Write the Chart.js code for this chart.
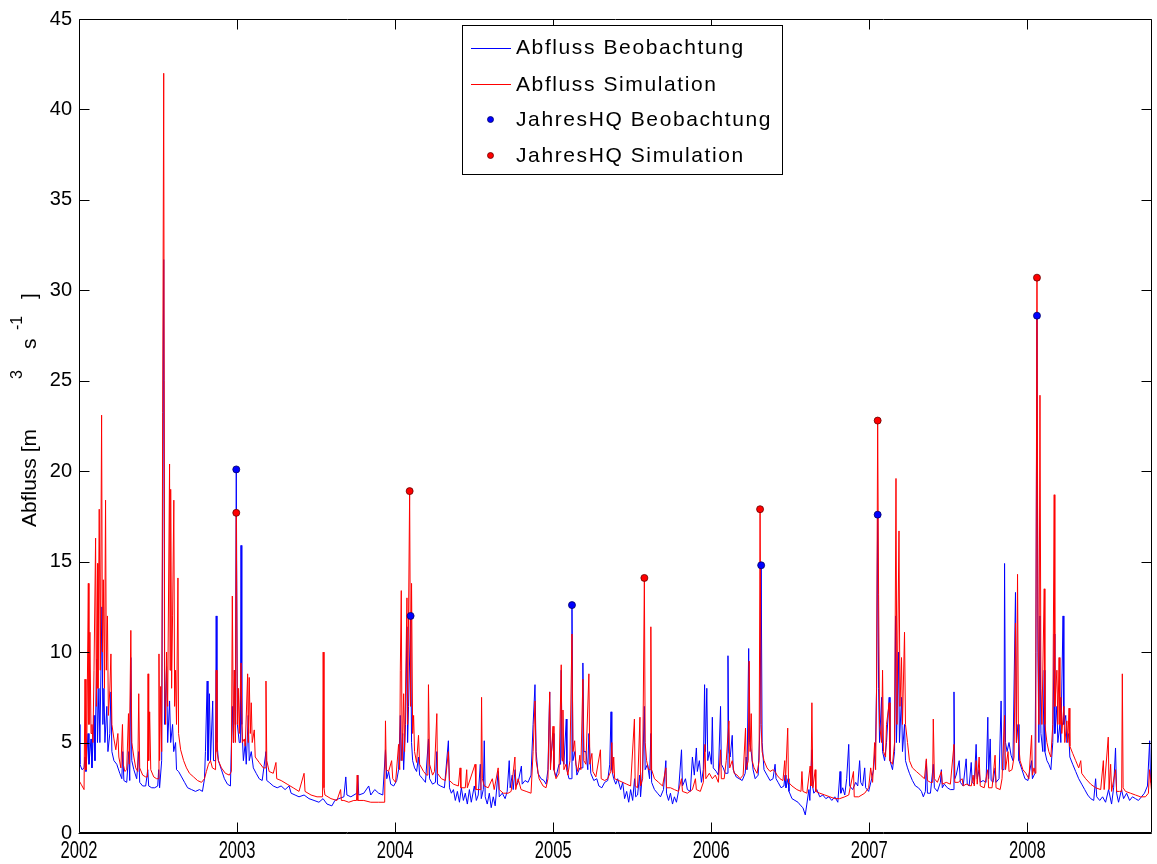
<!DOCTYPE html>
<html>
<head>
<meta charset="utf-8">
<script src="https://cdn.jsdelivr.net/npm/chart.js@4.4.1/dist/chart.umd.min.js"></script>
<style>
  html, body { margin: 0; padding: 0; background: #fff; }
</style>
</head>
<body>
<canvas id="abfluss-chart" width="1157" height="864"></canvas>
<script>
const START_YEAR = 2002;
const yearTicks = [2002, 2003, 2004, 2005, 2006, 2007, 2008];
const flowTicks = [0, 5, 10, 15, 20, 25, 30, 35, 40, 45];

// [years since 1 Jan 2002, discharge m3/s]
const obsFlow = [
  [0.000,6.0],[0.006,3.8],[0.019,3.5],[0.032,3.6],[0.038,4.2],[0.044,3.4],[0.057,5.5],[0.063,3.8],[0.076,5.2],[0.082,3.6],
  [0.095,6.5],[0.101,4],[0.112,9.6],[0.117,5],[0.126,8],[0.132,5],[0.145,12.5],[0.151,6],[0.158,8],[0.164,5],
  [0.176,7],[0.183,4.5],[0.195,5.5],[0.202,7.8],[0.208,4.5],[0.221,4.0],[0.239,3.8],[0.258,3.3],[0.271,3.0],[0.277,4.5],
  [0.284,2.9],[0.302,2.8],[0.315,4.5],[0.321,2.9],[0.328,9.7],[0.334,4],[0.347,3.5],[0.365,3.0],[0.378,4.5],[0.384,2.8],
  [0.403,2.6],[0.422,2.6],[0.435,3.5],[0.441,2.6],[0.460,2.5],[0.479,2.5],[0.498,2.6],[0.504,3.5],[0.510,2.5],[0.523,4],
  [0.536,31.7],[0.542,6],[0.554,9.2],[0.561,5],[0.573,7.3],[0.580,5],[0.592,6],[0.599,4.5],[0.611,5.0],[0.617,3.5],
  [0.630,3.4],[0.649,3.1],[0.668,2.8],[0.687,2.5],[0.712,2.4],[0.737,2.3],[0.762,2.4],[0.781,2.3],[0.794,3.0],[0.800,4.5],
  [0.811,8.4],[0.816,4],[0.825,7.7],[0.832,4],[0.846,7.3],[0.851,4],[0.864,4],[0.868,12.0],[0.873,5],[0.882,4.0],[0.901,3.5],
  [0.920,3.0],[0.939,2.7],[0.958,2.6],[0.970,7],[0.977,5],[0.983,9],[0.989,6],[0.995,20.1],[1.002,6],[1.014,5],
  [1.021,5],[1.025,15.9],[1.030,6],[1.040,4.0],[1.052,5],[1.058,3.8],[1.071,6.5],[1.077,4],[1.090,4.5],[1.103,3.6],[1.121,3.3],
  [1.140,3.0],[1.159,2.9],[1.183,4.5],[1.188,2.9],[1.203,2.8],[1.229,2.6],[1.254,2.5],[1.279,2.6],[1.304,2.4],[1.329,2.6],
  [1.342,2.2],[1.367,2.1],[1.392,2.0],[1.424,2.1],[1.455,1.9],[1.487,1.8],[1.518,1.7],[1.544,1.9],[1.569,1.6],[1.600,1.5],
  [1.619,1.8],[1.644,1.9],[1.676,2.0],[1.688,3.1],[1.695,2.1],[1.720,2.0],[1.758,2.2],[1.764,3.2],[1.770,2.1],[1.802,2.2],
  [1.833,2.6],[1.846,2.1],[1.871,2.4],[1.896,2.2],[1.922,2.1],[1.939,4.6],[1.947,3.0],[1.959,3.4],[1.972,2.7],[1.991,2.6],
  [2.010,2.9],[2.022,3.5],[2.033,6.5],[2.038,4],[2.048,5.5],[2.054,3.5],[2.066,6],[2.075,11.4],[2.079,5],[2.085,7],
  [2.098,12.0],[2.104,5],[2.111,4.0],[2.123,3.6],[2.136,3.4],[2.148,4.2],[2.155,3.2],[2.174,3.0],[2.192,2.8],[2.211,5.2],
  [2.218,3],[2.237,2.7],[2.255,2.8],[2.264,4.5],[2.268,2.7],[2.287,2.6],[2.312,2.5],[2.337,5.1],[2.344,2.5],[2.356,2.2],
  [2.369,2.4],[2.381,1.8],[2.394,2.3],[2.407,1.7],[2.419,2.5],[2.432,1.8],[2.444,2.2],[2.457,1.6],[2.470,2.4],[2.482,1.7],
  [2.501,2.6],[2.514,1.8],[2.526,2.1],[2.539,3.8],[2.545,1.9],[2.558,2.4],[2.564,5.1],[2.570,2.0],[2.583,1.6],[2.596,2.2],
  [2.608,1.4],[2.621,2.0],[2.633,1.5],[2.652,3.4],[2.659,2.0],[2.678,2.2],[2.696,1.9],[2.709,2.3],[2.722,4.0],[2.728,2.5],
  [2.741,3.2],[2.747,2.4],[2.759,3.5],[2.766,2.6],[2.778,2.8],[2.799,3.7],[2.804,2.7],[2.822,2.9],[2.841,2.8],[2.860,3.2],
  [2.873,6],[2.885,8.2],[2.892,4.5],[2.904,3.3],[2.923,3.0],[2.942,2.9],[2.955,2.7],[2.967,3.5],[2.978,7.8],[2.983,3.8],
  [2.999,5.5],[3.005,3.5],[3.018,3.1],[3.037,3.8],[3.047,3.8],[3.051,9.0],[3.056,4.2],[3.068,3.8],[3.083,6.3],[3.087,3.5],[3.100,3.0],
  [3.115,3.0],[3.119,12.6],[3.125,4],[3.137,4.5],[3.150,3.2],[3.169,3.6],[3.184,3.6],[3.188,9.4],[3.194,4.5],[3.207,4.5],[3.219,3.5],[3.226,5.5],
  [3.238,3.3],[3.257,2.9],[3.276,3.0],[3.289,2.6],[3.308,2.5],[3.326,2.8],[3.345,2.9],[3.358,3.8],[3.366,6.7],[3.371,3.5],
  [3.383,3.0],[3.396,2.7],[3.408,3.0],[3.427,2.4],[3.440,2.8],[3.452,1.9],[3.465,2.3],[3.478,1.7],[3.490,2.4],[3.503,1.8],
  [3.515,3.0],[3.522,2.0],[3.534,2.1],[3.547,3.2],[3.553,2.0],[3.566,3.5],[3.577,7.0],[3.582,3.5],[3.597,3.8],[3.610,3.0],
  [3.618,5.5],[3.623,2.8],[3.641,2.4],[3.660,2.2],[3.679,2.0],[3.698,2.4],[3.713,4.0],[3.717,2.2],[3.730,1.8],[3.742,2.2],
  [3.755,1.6],[3.767,2.0],[3.780,1.7],[3.793,2.3],[3.812,4.6],[3.818,2.6],[3.837,3.0],[3.849,2.4],[3.868,2.3],[3.881,4.2],
  [3.893,3.2],[3.906,4.7],[3.912,3.4],[3.925,4.0],[3.938,2.8],[3.950,3.5],[3.958,8.2],[3.963,4.5],[3.972,8.0],[3.978,4],
  [3.988,4.5],[4.001,3.8],[4.007,6.4],[4.013,3.6],[4.032,3.4],[4.045,3.2],[4.059,7.0],[4.064,3.8],[4.076,3.6],[4.089,3.3],
  [4.102,3.3],[4.106,9.8],[4.111,4.5],[4.120,4.2],[4.133,5.4],[4.139,3.5],[4.158,3.1],[4.177,3.0],[4.196,2.9],[4.215,3.3],[4.221,4.2],
  [4.227,3.5],[4.237,10.2],[4.243,5],[4.253,4.5],[4.265,3.5],[4.278,3.0],[4.297,3.2],[4.309,6],[4.316,14.8],[4.322,5],
  [4.334,3.5],[4.353,3.2],[4.372,2.9],[4.391,3.0],[4.404,3.8],[4.410,3.0],[4.423,2.8],[4.442,2.5],[4.460,2.6],[4.467,3.2],
  [4.473,2.5],[4.486,3.0],[4.492,2.3],[4.511,1.9],[4.530,1.8],[4.549,1.7],[4.568,1.5],[4.580,1.4],[4.595,1.0],[4.605,1.6],
  [4.618,2.4],[4.624,1.8],[4.637,4.6],[4.643,2.5],[4.649,2.2],[4.668,2.4],[4.687,2.0],[4.706,2.1],[4.725,1.9],[4.744,2.0],
  [4.763,1.8],[4.782,2.0],[4.801,1.7],[4.815,3.4],[4.820,2.2],[4.832,2.5],[4.845,2.1],[4.857,3.0],[4.870,4.9],[4.876,2.6],
  [4.895,2.4],[4.914,2.8],[4.927,2.6],[4.939,4.0],[4.946,2.8],[4.958,2.6],[4.971,3.6],[4.977,2.5],[4.996,2.3],[5.015,3.0],
  [5.027,3.5],[5.040,5],[5.046,8],[5.053,17.6],[5.059,8],[5.065,5],[5.078,7.5],[5.084,4.5],[5.097,4],[5.109,5],
  [5.126,7.5],[5.131,4],[5.147,3.5],[5.160,4.5],[5.166,12.0],[5.172,5],[5.185,10],[5.191,5],[5.204,7.5],[5.210,4.5],
  [5.223,6],[5.229,4],[5.242,3.6],[5.254,3.3],[5.273,2.9],[5.292,2.6],[5.311,2.5],[5.330,2.3],[5.342,2.0],[5.355,2.3],
  [5.361,4.0],[5.368,2.2],[5.387,2.2],[5.405,3.8],[5.412,2.5],[5.431,2.3],[5.450,2.8],[5.456,3.5],[5.462,2.5],[5.475,2.7],
  [5.494,2.5],[5.513,2.4],[5.532,2.4],[5.536,7.8],[5.541,3],[5.550,3.2],[5.569,4.0],[5.576,2.8],[5.594,2.6],[5.613,4.1],[5.620,2.7],
  [5.632,2.6],[5.645,3.9],[5.651,2.8],[5.664,2.7],[5.676,4.9],[5.683,3],[5.695,3.5],[5.702,2.8],[5.720,2.9],[5.739,2.8],
  [5.750,6.4],[5.755,3],[5.765,5.2],[5.771,2.9],[5.783,2.8],[5.796,3.6],[5.802,2.8],[5.821,3.0],[5.834,7.3],[5.840,3.5],
  [5.852,3.5],[5.856,14.9],[5.862,5],[5.872,4.5],[5.884,5],[5.897,4.3],[5.909,4.0],[5.925,13.3],[5.931,5],[5.941,6],[5.947,4],
  [5.966,3.5],[5.985,3.0],[6.004,2.9],[6.027,4.0],[6.032,3.0],[6.048,3.3],[6.054,10],[6.061,28.6],[6.067,10],[6.073,5],
  [6.080,12],[6.086,5.5],[6.098,4.5],[6.107,9],[6.111,4.5],[6.124,4.0],[6.136,3.8],[6.149,3.5],[6.161,5],[6.170,11],
  [6.174,5.5],[6.187,7],[6.193,5],[6.206,6],[6.212,5],[6.226,12.0],[6.231,6],[6.243,6.5],[6.250,5],[6.262,5.5],
  [6.269,4.2],[6.287,3.8],[6.306,3.4],[6.325,3.0],[6.344,2.7],[6.363,2.4],[6.382,2.1],[6.401,1.9],[6.420,1.8],[6.432,3.0],
  [6.439,2.0],[6.458,1.8],[6.476,2.0],[6.495,1.7],[6.514,2.4],[6.533,1.6],[6.546,2.5],[6.558,4.7],[6.565,2.2],[6.577,1.7],
  [6.596,2.4],[6.609,1.9],[6.628,2.2],[6.647,1.8],[6.665,2.0],[6.684,1.9],[6.703,1.8],[6.722,2.0],[6.741,2.2],[6.760,2.6],
  [6.774,5.1],[6.780,2.8],[6.785,3.2]
];

const simFlow = [
  [0.000,2.9],[0.013,2.7],[0.032,2.4],[0.038,8.5],[0.044,3.5],[0.050,5.5],[0.059,13.8],[0.063,6],[0.069,11.1],[0.076,5.5],
  [0.082,6],[0.088,5],[0.095,9],[0.105,16.3],[0.110,7],[0.117,14.9],[0.120,8],[0.128,17.9],[0.135,9],[0.143,23.1],
  [0.148,10],[0.154,14],[0.161,8],[0.168,18.4],[0.173,9],[0.180,12],[0.186,6.5],[0.195,7.9],[0.202,9.9],[0.208,6],
  [0.221,5.2],[0.233,4.6],[0.246,5.5],[0.252,4.2],[0.265,3.6],[0.275,6.0],[0.280,3.8],[0.290,3.4],[0.302,3.5],[0.313,6.6],
  [0.318,3.8],[0.328,11.2],[0.334,5],[0.347,4.2],[0.359,3.6],[0.372,3.4],[0.378,7.7],[0.384,3.6],[0.403,3.2],[0.422,3.1],
  [0.433,3.1],[0.437,8.8],[0.441,4],[0.447,6.7],[0.454,3.5],[0.473,3.1],[0.491,3.0],[0.502,3.0],[0.506,9.9],[0.510,4],[0.517,8.1],[0.523,4.5],
  [0.536,42],[0.542,8],[0.548,6],[0.554,10],[0.561,7],[0.573,20.4],[0.576,9],[0.580,19.0],[0.586,8],[0.592,12],
  [0.600,18.4],[0.605,7],[0.611,9],[0.617,6],[0.626,14.1],[0.630,5.5],[0.643,4.6],[0.662,4.0],[0.680,3.6],[0.699,3.3],
  [0.725,3.1],[0.750,2.9],[0.775,2.8],[0.794,3.0],[0.806,3.4],[0.819,3.8],[0.832,4.0],[0.844,3.6],[0.864,3.5],[0.868,9.0],[0.873,4.5],
  [0.882,4.0],[0.901,3.6],[0.926,3.3],[0.951,3.2],[0.964,3.4],[0.970,13.1],[0.977,5],[0.983,9],[0.989,5],[0.995,17.7],
  [1.002,6],[1.008,8],[1.014,5.5],[1.025,9.4],[1.033,5.0],[1.046,5.2],[1.052,4.8],[1.067,8.8],[1.071,5],[1.077,8.6],
  [1.084,5.5],[1.090,7.2],[1.096,5],[1.109,5.7],[1.115,4.2],[1.140,3.9],[1.166,3.6],[1.179,3.6],[1.183,8.4],[1.188,4],[1.203,3.4],
  [1.229,3.3],[1.246,3.9],[1.251,3.0],[1.279,2.9],[1.317,2.7],[1.355,2.5],[1.392,2.3],[1.424,3.3],[1.430,2.3],[1.468,2.1],
  [1.506,2.0],[1.541,2.0],[1.545,10.0],[1.550,2.5],[1.556,2.1],[1.594,1.9],[1.632,1.8],[1.655,2.4],[1.660,1.8],[1.676,1.8],[1.707,1.7],
  [1.739,1.8],[1.756,1.8],[1.760,3.2],[1.764,1.8],[1.802,1.8],[1.846,1.7],[1.896,1.7],[1.934,1.7],[1.939,6.2],[1.944,3.5],[1.959,3.4],
  [1.978,4.0],[1.985,3.0],[2.003,2.8],[2.022,4.9],[2.029,3.5],[2.033,9.0],[2.039,13.4],[2.044,4],[2.054,7.7],[2.060,4.5],
  [2.075,13.0],[2.079,6],[2.092,18.9],[2.098,7],[2.104,13.8],[2.111,5.5],[2.117,6.5],[2.123,4.5],[2.136,3.9],[2.148,5.4],
  [2.155,3.8],[2.180,3.4],[2.199,3.2],[2.207,3.2],[2.211,8.2],[2.218,3.8],[2.237,3.2],[2.249,3.4],[2.264,6.6],[2.268,3.3],[2.293,3.0],
  [2.318,2.9],[2.337,4.5],[2.344,2.9],[2.369,2.7],[2.400,2.6],[2.411,3.6],[2.416,2.5],[2.444,2.5],[2.453,3.5],[2.457,2.5],
  [2.506,3.8],[2.511,2.4],[2.526,2.4],[2.543,2.4],[2.547,7.5],[2.552,3],[2.564,2.6],[2.589,2.5],[2.615,3.0],[2.627,2.4],[2.652,3.6],
  [2.659,2.4],[2.684,2.2],[2.715,2.2],[2.734,2.3],[2.758,4.2],[2.763,2.4],[2.778,3.0],[2.797,2.4],[2.829,2.3],[2.860,2.2],
  [2.873,4.5],[2.885,7.3],[2.892,4],[2.911,3.0],[2.936,2.6],[2.955,2.5],[2.967,3.0],[2.978,7.8],[2.983,3.5],[2.999,5.9],
  [3.005,3.5],[3.018,3.0],[3.037,3.3],[3.051,9.3],[3.056,4],[3.062,6.8],[3.068,3.5],[3.081,3.8],[3.093,3.2],[3.106,4.0],
  [3.119,11.0],[3.125,4.5],[3.136,5.1],[3.144,3.8],[3.156,3.4],[3.169,4.3],[3.175,3.5],[3.188,8.5],[3.194,4],[3.207,3.8],
  [3.226,8.8],[3.232,3.8],[3.245,4.4],[3.251,3.4],[3.270,3.1],[3.299,4.6],[3.304,3.0],[3.326,2.9],[3.345,3.0],[3.364,3.4],
  [3.371,5.0],[3.377,3.3],[3.383,4.2],[3.389,3.0],[3.415,2.9],[3.440,2.8],[3.465,2.7],[3.490,2.6],[3.514,6.3],[3.519,2.6],
  [3.534,2.5],[3.549,6.4],[3.553,2.6],[3.566,3],[3.577,14.1],[3.582,5],[3.591,4.0],[3.604,3.5],[3.614,3.5],[3.618,11.4],[3.623,3.5],
  [3.641,3.0],[3.667,2.8],[3.692,2.6],[3.713,3.6],[3.717,2.5],[3.742,2.5],[3.767,2.4],[3.793,2.3],[3.812,3.0],[3.818,2.3],
  [3.849,2.2],[3.881,2.4],[3.900,3.0],[3.906,2.4],[3.931,2.3],[3.950,2.8],[3.960,4.9],[3.966,3],[3.988,3.3],[4.007,3.0],
  [4.026,3.2],[4.045,2.8],[4.059,4.6],[4.064,3.0],[4.082,3.0],[4.095,4],[4.112,6.2],[4.117,3.6],[4.133,4.0],[4.145,3.3],
  [4.164,3.2],[4.183,3.0],[4.202,3.2],[4.217,5.8],[4.221,3.5],[4.234,4.0],[4.240,9.5],[4.246,4.5],[4.253,6.6],[4.259,4.0],
  [4.271,3.6],[4.290,3.3],[4.303,4],[4.309,17.9],[4.316,6],[4.322,4.5],[4.334,4.0],[4.353,3.6],[4.372,3.4],[4.391,3.5],
  [4.404,3.4],[4.416,3.2],[4.435,3.0],[4.454,2.9],[4.465,4.0],[4.470,2.9],[4.484,5.8],[4.489,2.8],[4.511,2.6],[4.542,2.4],
  [4.568,2.3],[4.574,3.4],[4.580,2.3],[4.605,2.2],[4.626,3.7],[4.631,2.6],[4.637,7.2],[4.643,2.5],[4.658,3.5],[4.662,2.3],
  [4.687,2.2],[4.719,2.1],[4.750,2.0],[4.782,1.9],[4.813,1.9],[4.845,2.0],[4.870,2.1],[4.900,3.4],[4.905,2.0],[4.933,2.0],
  [4.971,2.2],[4.996,2.5],[5.009,3.6],[5.021,2.8],[5.034,5],[5.040,3.5],[5.046,8],[5.053,22.8],[5.059,13.2],[5.065,6],
  [5.078,5],[5.084,9],[5.090,4.5],[5.103,4.2],[5.109,6],[5.126,7.2],[5.131,4],[5.147,3.8],[5.160,5],[5.169,19.6],
  [5.175,6],[5.188,16.7],[5.194,7],[5.204,9.7],[5.210,6],[5.223,11.1],[5.229,6],[5.242,5],[5.254,4.0],[5.273,3.6],
  [5.298,3.4],[5.324,3.2],[5.349,3.0],[5.361,4.1],[5.368,2.9],[5.387,2.8],[5.401,2.8],[5.405,6.3],[5.412,3],[5.431,2.8],[5.456,3.4],
  [5.462,2.7],[5.487,2.8],[5.513,2.7],[5.536,4.9],[5.541,2.8],[5.563,2.8],[5.588,3.0],[5.594,2.6],[5.613,2.7],[5.645,2.6],
  [5.657,3.2],[5.664,2.6],[5.676,4.0],[5.683,2.7],[5.695,4.2],[5.702,2.6],[5.727,2.5],[5.750,3.5],[5.755,2.5],[5.777,2.5],
  [5.796,4.3],[5.802,2.5],[5.828,2.4],[5.840,3.0],[5.856,6.5],[5.862,3.5],[5.878,4.5],[5.884,3.4],[5.903,3.5],[5.916,4.2],
  [5.925,11.6],[5.931,5],[5.938,14.3],[5.944,5],[5.954,4],[5.972,3.5],[5.991,3.3],[6.010,3.0],[6.027,5.4],[6.032,3.2],
  [6.042,3.6],[6.051,3.3],[6.054,10],[6.061,30.7],[6.067,12],[6.073,6],[6.080,24.2],[6.086,8],[6.092,6],[6.107,13.5],
  [6.111,6],[6.124,5],[6.136,4.5],[6.149,4.2],[6.161,6],[6.170,18.7],[6.174,7],[6.187,9],[6.193,6],[6.201,9.7],
  [6.206,6],[6.212,7.5],[6.218,5.5],[6.231,7],[6.237,5],[6.250,6.2],[6.256,5],[6.264,6.9],[6.269,4.8],[6.287,4.4],
  [6.306,4.0],[6.325,3.6],[6.338,4.0],[6.344,3.3],[6.369,3.0],[6.401,2.7],[6.432,2.5],[6.464,2.4],[6.481,4.0],[6.486,2.4],
  [6.512,5.3],[6.517,2.4],[6.527,3.8],[6.533,2.3],[6.558,3.5],[6.565,2.3],[6.584,2.3],[6.597,2.3],[6.601,8.8],[6.606,2.5],[6.621,2.3],
  [6.653,2.2],[6.684,2.1],[6.716,2.0],[6.747,2.0],[6.766,2.2],[6.773,3.5],[6.785,2.4]
];

// annual maxima (JahresHQ)
const obsHQ = [[0.995,20.1],[2.098,12.0],[3.119,12.6],[4.316,14.8],[5.053,17.6],[6.061,28.6]];
const simHQ = [[0.995,17.7],[2.092,18.9],[3.577,14.1],[4.309,17.9],[5.053,22.8],[6.061,30.7]];

const FONT = "'Liberation Sans', Arial, Helvetica, sans-serif";
const toPoints = (series) => series.map(([t, q]) => ({ x: START_YEAR + t, y: q }));

// MATLAB style box with inward ticks, plus condensed year labels
const axesBox = {
  id: 'axesBox',
  afterDatasetsDraw(chart) {
    const { ctx, chartArea: a, scales: { x, y } } = chart;
    const L = Math.round(a.left) + 0.5, R = Math.round(a.right) - 0.5;
    const T = Math.round(a.top) + 0.5, B = Math.round(a.bottom) - 0.5;
    ctx.save();
    ctx.strokeStyle = '#000';
    ctx.lineWidth = 1;
    ctx.beginPath();
    ctx.rect(L, T, R - L, B - T);
    yearTicks.forEach(v => {
      const px = Math.round(x.getPixelForValue(v)) + 0.5;
      ctx.moveTo(px, B); ctx.lineTo(px, B - 10);
      ctx.moveTo(px, T); ctx.lineTo(px, T + 10);
    });
    flowTicks.forEach(v => {
      const py = Math.round(y.getPixelForValue(v)) + 0.5;
      ctx.moveTo(L, py); ctx.lineTo(L + 10, py);
      ctx.moveTo(R, py); ctx.lineTo(R - 10, py);
    });
    ctx.stroke();
    ctx.beginPath();
    ctx.moveTo(L - 1, B + 1); ctx.lineTo(R, B + 1);
    ctx.stroke();

    // x tick labels, narrow like the export
    ctx.fillStyle = '#000';
    ctx.font = '23px ' + FONT;
    ctx.textAlign = 'center';
    ctx.textBaseline = 'alphabetic';
    yearTicks.forEach(v => {
      const px = x.getPixelForValue(v);
      ctx.save();
      ctx.translate(px, 858);
      ctx.scale(0.72, 1);
      ctx.fillText(String(v), 0, 0);
      ctx.restore();
    });

    // y axis title with the superscripts set apart
    ctx.save();
    ctx.translate(36, 527);
    ctx.rotate(-Math.PI / 2);
    ctx.textAlign = 'left';
    ctx.font = '21px ' + FONT;
    ctx.fillText('Abfluss [m', 0, 0);
    ctx.fillText('s', 178, 0);
    ctx.fillText(']', 228, 0);
    ctx.font = '16px ' + FONT;
    ctx.fillText('3', 148, -14);
    ctx.fillText('-1', 197, -14);
    ctx.restore();
    ctx.restore();
  }
};

// legend box placed like the original
const legendBox = {
  id: 'legendBox',
  afterDraw(chart) {
    const { ctx } = chart;
    const rows = [47.5, 84, 119.5, 155.5];
    ctx.save();
    ctx.fillStyle = '#fff';
    ctx.fillRect(462, 25, 320, 149);
    ctx.strokeStyle = '#000';
    ctx.lineWidth = 1;
    ctx.strokeRect(462.5, 25.5, 320, 149);
    ctx.font = '21px ' + FONT;
    ctx.letterSpacing = '1.6px';
    ctx.textBaseline = 'middle';
    chart.data.datasets.forEach((ds, i) => {
      const yy = rows[i];
      if (ds.showLine === false) {
        ctx.beginPath();
        ctx.arc(490.5, yy, 3, 0, Math.PI * 2);
        ctx.fillStyle = ds.pointBackgroundColor;
        ctx.fill();
        ctx.strokeStyle = ds.pointBorderColor;
        ctx.lineWidth = 0.8;
        ctx.stroke();
      } else {
        ctx.beginPath();
        ctx.moveTo(471, Math.round(yy) + 0.5);
        ctx.lineTo(511, Math.round(yy) + 0.5);
        ctx.strokeStyle = ds.borderColor;
        ctx.lineWidth = 1;
        ctx.stroke();
      }
      ctx.fillStyle = '#000';
      ctx.fillText(ds.label, 516, yy + 1);
    });
    ctx.restore();
  }
};

const ctx = document.getElementById('abfluss-chart').getContext('2d');
const abflussChart = new Chart(ctx, {
  type: 'line',
  data: {
    datasets: [
      {
        label: 'Abfluss Beobachtung',
        data: toPoints(obsFlow),
        borderColor: '#0000ff',
        borderWidth: 1,
        borderJoinStyle: 'bevel',
        pointRadius: 0,
        order: 3
      },
      {
        label: 'Abfluss Simulation',
        data: toPoints(simFlow),
        borderColor: '#ff0000',
        borderWidth: 1,
        borderJoinStyle: 'bevel',
        pointRadius: 0,
        order: 2
      },
      {
        label: 'JahresHQ Beobachtung',
        data: toPoints(obsHQ),
        showLine: false,
        pointRadius: 3.5,
        pointBackgroundColor: '#0000ff',
        pointBorderColor: '#000066',
        pointBorderWidth: 0.8,
        order: 1
      },
      {
        label: 'JahresHQ Simulation',
        data: toPoints(simHQ),
        showLine: false,
        pointRadius: 3.5,
        pointBackgroundColor: '#ff0000',
        pointBorderColor: '#660000',
        pointBorderWidth: 0.8,
        order: 0
      }
    ]
  },
  options: {
    responsive: false,
    animation: false,
    layout: { padding: { left: 0, right: 1, top: 18, bottom: 0 } },
    plugins: {
      legend: { display: false },
      tooltip: { enabled: false }
    },
    scales: {
      x: {
        type: 'linear',
        min: 2002,
        max: 2008.79,
        afterBuildTicks: (scale) => { scale.ticks = yearTicks.map(v => ({ value: v })); },
        afterFit: (scale) => { scale.height = 31; },
        grid: { display: false, drawTicks: false },
        border: { display: false },
        ticks: { display: false }
      },
      y: {
        min: 0,
        max: 45,
        afterBuildTicks: (scale) => { scale.ticks = flowTicks.map(v => ({ value: v })); },
        afterFit: (scale) => { scale.width = 79; },
        grid: { display: false, drawTicks: false },
        border: { display: false },
        ticks: {
          color: '#000',
          padding: 7,
          font: { family: FONT, size: 20 }
        }
      }
    }
  },
  plugins: [axesBox, legendBox]
});
</script>
</body>
</html>
